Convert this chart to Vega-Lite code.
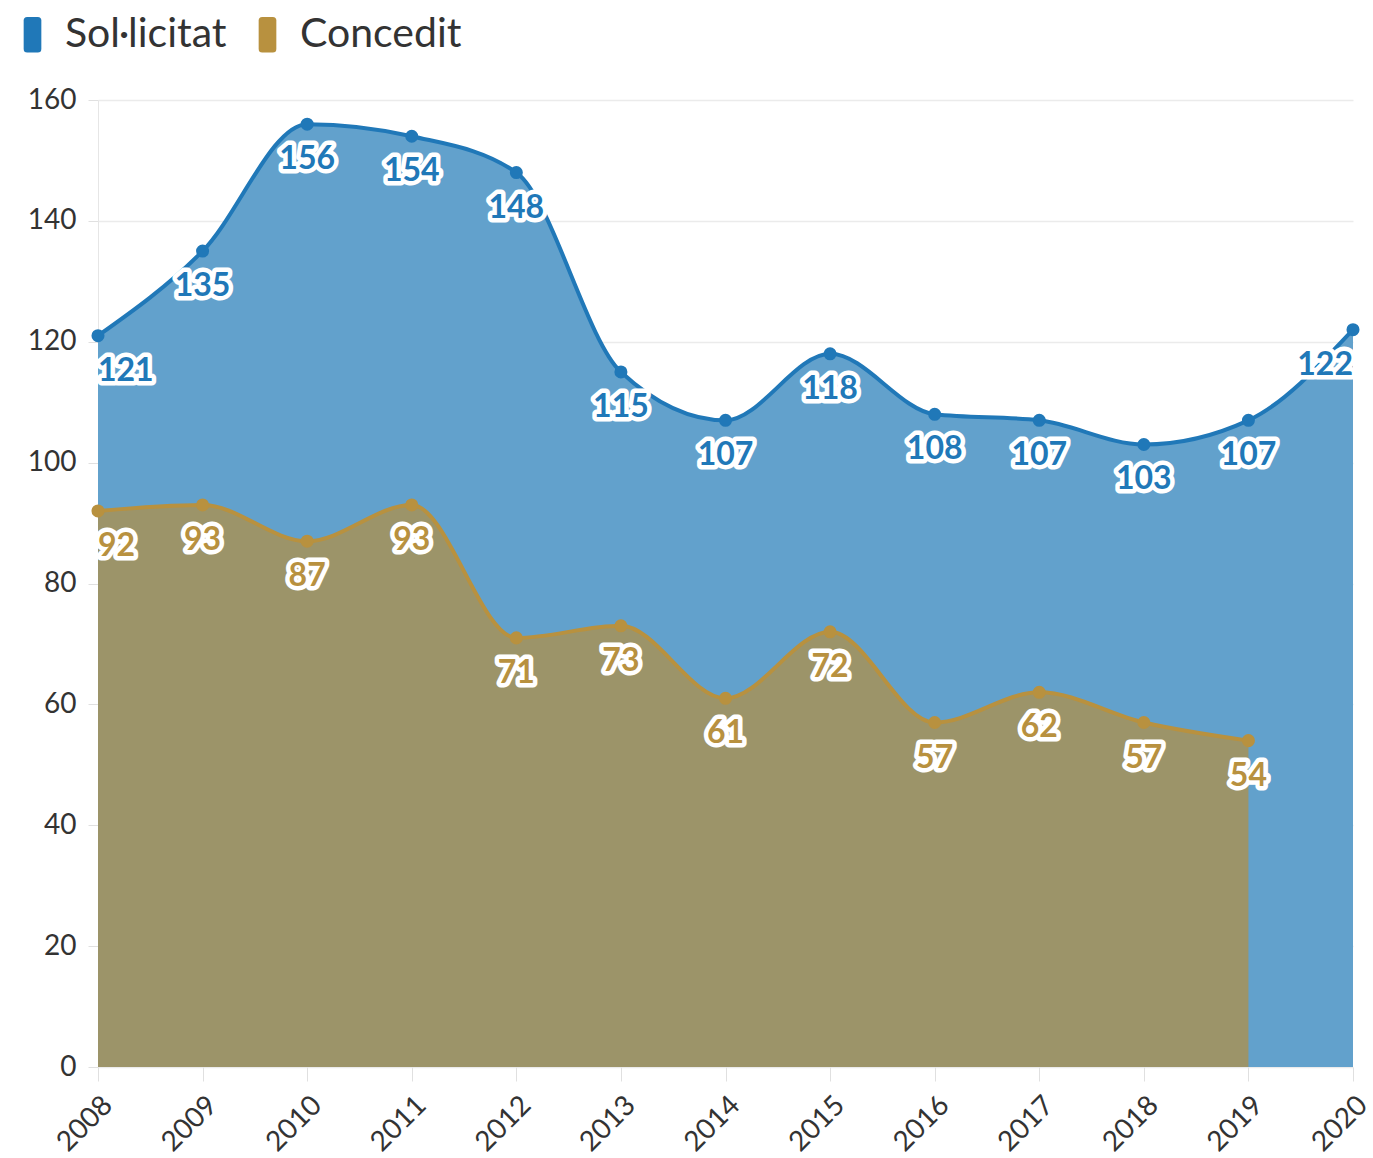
{
  "$schema": "https://vega.github.io/schema/vega-lite/v6.json",
  "width": 1255,
  "height": 967,
  "autosize": {"type": "none"},
  "padding": {"left": 98, "top": 100, "right": 20, "bottom": 91},
  "background": "white",
  "config": {"view": {"stroke": null}, "font": "Lato"},
  "data": {"values": [
    {"year": 2008, "serie": "Sol·licitat", "value": 121},
    {"year": 2009, "serie": "Sol·licitat", "value": 135},
    {"year": 2010, "serie": "Sol·licitat", "value": 156},
    {"year": 2011, "serie": "Sol·licitat", "value": 154},
    {"year": 2012, "serie": "Sol·licitat", "value": 148},
    {"year": 2013, "serie": "Sol·licitat", "value": 115},
    {"year": 2014, "serie": "Sol·licitat", "value": 107},
    {"year": 2015, "serie": "Sol·licitat", "value": 118},
    {"year": 2016, "serie": "Sol·licitat", "value": 108},
    {"year": 2017, "serie": "Sol·licitat", "value": 107},
    {"year": 2018, "serie": "Sol·licitat", "value": 103},
    {"year": 2019, "serie": "Sol·licitat", "value": 107},
    {"year": 2020, "serie": "Sol·licitat", "value": 122},
    {"year": 2008, "serie": "Concedit", "value": 92},
    {"year": 2009, "serie": "Concedit", "value": 93},
    {"year": 2010, "serie": "Concedit", "value": 87},
    {"year": 2011, "serie": "Concedit", "value": 93},
    {"year": 2012, "serie": "Concedit", "value": 71},
    {"year": 2013, "serie": "Concedit", "value": 73},
    {"year": 2014, "serie": "Concedit", "value": 61},
    {"year": 2015, "serie": "Concedit", "value": 72},
    {"year": 2016, "serie": "Concedit", "value": 57},
    {"year": 2017, "serie": "Concedit", "value": 62},
    {"year": 2018, "serie": "Concedit", "value": 57},
    {"year": 2019, "serie": "Concedit", "value": 54}
  ]},
  "encoding": {
    "x": {
      "field": "year", "type": "quantitative",
      "scale": {"domain": [2008, 2020], "nice": false, "zero": false},
      "axis": {
        "title": null,
        "values": [2008, 2009, 2010, 2011, 2012, 2013, 2014, 2015, 2016, 2017, 2018, 2019, 2020],
        "format": "d",
        "labelAngle": -45,
        "labelAlign": "right",
        "labelBaseline": "top",
        "labelFontSize": 28,
        "labelColor": "#333333",
        "labelPadding": 10,
        "grid": false,
        "domain": false,
        "tickColor": "#e0e0e0",
        "tickSize": 14
      }
    },
    "y": {
      "field": "value", "type": "quantitative", "stack": null,
      "scale": {"domain": [0, 160], "nice": false},
      "axis": {
        "title": null,
        "values": [0, 20, 40, 60, 80, 100, 120, 140, 160],
        "labelFontSize": 28,
        "labelColor": "#333333",
        "labelPadding": 12,
        "gridColor": "#ebebeb",
        "gridWidth": 1.5,
        "domain": true,
        "domainColor": "#e6e6e6",
        "tickColor": "#e0e0e0",
        "tickSize": 10
      }
    }
  },
  "layer": [
    {
      "transform": [{"filter": "datum.serie == 'Sol·licitat'"}],
      "mark": {"type": "area", "interpolate": "monotone", "color": "#62a1cc", "opacity": 1}
    },
    {
      "transform": [{"filter": "datum.serie == 'Concedit'"}],
      "mark": {"type": "area", "interpolate": "monotone", "color": "#9c9469", "opacity": 1}
    },
    {
      "mark": {"type": "line", "interpolate": "monotone", "strokeWidth": 4},
      "encoding": {
        "color": {
          "field": "serie", "type": "nominal",
          "scale": {"domain": ["Sol·licitat", "Concedit"], "range": ["#2078b8", "#b8913f"]},
          "legend": {
            "title": null,
            "orient": "none",
            "legendX": -86,
            "legendY": -86,
            "direction": "horizontal",
            "symbolType": "M-0.5,-0.8Q-0.5,-1 -0.3,-1H0.3Q0.5,-1 0.5,-0.8V0.8Q0.5,1 0.3,1H-0.3Q-0.5,1 -0.5,0.8Z",
            "symbolSize": 1250,
            "symbolStrokeWidth": 0,
            "symbolOpacity": 1,
            "labelFontSize": 41,
            "labelLimit": 500,
            "labelColor": "#333333",
            "labelFont": "Lato",
            "columnPadding": 20,
            "labelOffset": 12
          }
        }
      }
    },
    {
      "mark": {"type": "point", "filled": true, "size": 170, "opacity": 1},
      "encoding": {"color": {"field": "serie", "type": "nominal"}}
    },
    {
      "mark": {
        "type": "text", "dy": 35, "baseline": "middle",
        "align": {"expr": "datum.year == 2008 ? 'left' : datum.year == 2020 ? 'right' : 'center'"},
        "fontSize": 32, "fontWeight": "bold",
        "fill": "white", "stroke": "white", "strokeWidth": 9, "strokeJoin": "round"
      },
      "encoding": {"text": {"field": "value", "type": "quantitative"}}
    },
    {
      "mark": {
        "type": "text", "dy": 35, "baseline": "middle",
        "align": {"expr": "datum.year == 2008 ? 'left' : datum.year == 2020 ? 'right' : 'center'"},
        "fontSize": 32, "fontWeight": "bold"
      },
      "encoding": {
        "text": {"field": "value", "type": "quantitative"},
        "color": {"field": "serie", "type": "nominal"}
      }
    }
  ]
}
